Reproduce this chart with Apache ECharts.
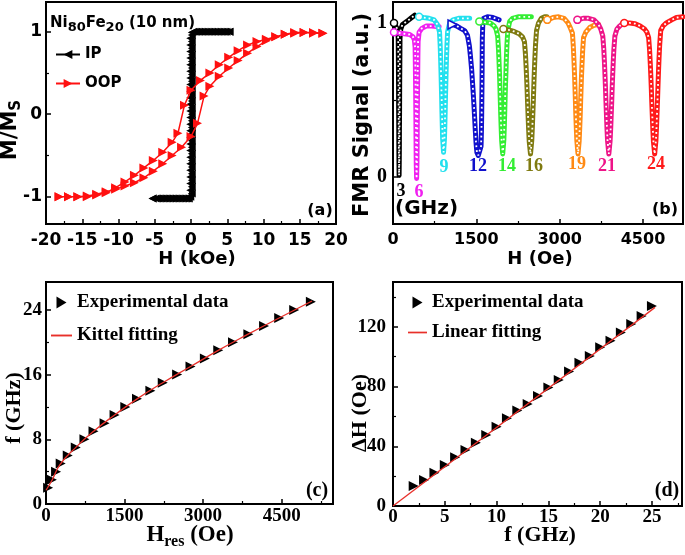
<!DOCTYPE html>
<html><head><meta charset="utf-8">
<script src="https://cdn.jsdelivr.net/npm/echarts@6/dist/echarts.min.js"></script>
<style>html,body{margin:0;padding:0;background:#fff}#c{width:685px;height:555px}</style>
</head><body><div id="c"></div>
<script>
// ---------- Panel (a): hysteresis loops (H in kOe, M/Ms) ----------
const ipDown = [[5.3,1.0],[4.9,1.0],[4.5,1.0],[4.1,1.0],[3.7,1.0],[3.3,1.0],[2.9,1.0],[2.5,1.0],[2.1,1.0],[1.7,1.0],[1.3,1.0],[0.9,1.0],[0.5,1.0],[0.1,0.99],
 [-0.1,0.92],[-0.1,0.84],[-0.1,0.76],[-0.1,0.68],[-0.1,0.60],[-0.1,0.52],[-0.1,0.44],[-0.1,0.36],[-0.1,0.28],[-0.1,0.20],[-0.1,0.12],[-0.1,0.04],
 [-0.1,-0.04],[-0.1,-0.12],[-0.1,-0.20],[-0.1,-0.28],[-0.1,-0.36],[-0.1,-0.44],[-0.1,-0.52],[-0.1,-0.60],[-0.1,-0.68],[-0.1,-0.76],[-0.1,-0.84],[-0.1,-0.92],
 [-0.3,-1.02],[-0.7,-1.02],[-1.1,-1.02],[-1.5,-1.02],[-1.9,-1.02],[-2.3,-1.02],[-2.7,-1.02],[-3.1,-1.02],[-3.5,-1.02],[-3.9,-1.02],[-4.3,-1.02],[-4.7,-1.02],[-5.3,-1.02]];
const ipUp = [[-5.3,-1.02],[-4.9,-1.02],[-4.5,-1.02],[-4.1,-1.02],[-3.7,-1.02],[-3.3,-1.02],[-2.9,-1.02],[-2.5,-1.02],[-2.1,-1.02],[-1.7,-1.02],[-1.3,-1.02],[-0.9,-1.02],[-0.5,-1.02],[-0.1,-1.0],
 [0.1,-0.96],[0.1,-0.88],[0.1,-0.80],[0.1,-0.72],[0.1,-0.64],[0.1,-0.56],[0.1,-0.48],[0.1,-0.40],[0.1,-0.32],[0.1,-0.24],[0.1,-0.16],[0.1,-0.08],
 [0.1,0.0],[0.1,0.08],[0.1,0.16],[0.1,0.24],[0.1,0.32],[0.1,0.40],[0.1,0.48],[0.1,0.56],[0.1,0.64],[0.1,0.72],[0.1,0.80],[0.1,0.88],[0.1,0.96],
 [0.3,1.0],[0.7,1.0],[1.1,1.0],[1.5,1.0],[1.9,1.0],[2.3,1.0],[2.7,1.0],[3.1,1.0],[3.5,1.0],[3.9,1.0],[4.3,1.0],[4.7,1.0],[5.3,1.0]];
const oopDown = [[18.2,0.98],[16.9,0.99],[15.6,0.99],[14.3,0.98],[13.0,0.97],[11.7,0.94],[10.4,0.91],[9.1,0.88],[7.8,0.84],[6.5,0.77],[5.2,0.69],[3.9,0.60],[2.6,0.50],[1.3,0.41],[0.0,0.29],
 [-0.9,0.11],[-1.8,-0.23],[-2.6,-0.34],[-3.9,-0.46],[-5.2,-0.56],[-6.5,-0.65],[-7.8,-0.74],[-9.1,-0.82],[-10.4,-0.89],[-11.7,-0.95],[-13.0,-0.98],[-14.3,-1.0],[-15.6,-1.0],[-16.9,-1.0],[-18.2,-1.0]];
const oopUp = [[-18.2,-1.0],[-16.9,-1.0],[-15.6,-1.0],[-14.3,-0.99],[-13.0,-0.97],[-11.7,-0.94],[-10.4,-0.91],[-9.1,-0.87],[-7.8,-0.83],[-6.5,-0.77],[-5.2,-0.69],[-3.9,-0.60],[-2.6,-0.50],[-1.3,-0.40],[0.0,-0.27],
 [0.9,-0.11],[1.8,0.22],[2.6,0.34],[3.9,0.46],[5.2,0.56],[6.5,0.65],[7.8,0.74],[9.1,0.82],[10.4,0.89],[11.7,0.94],[13.0,0.97],[14.3,0.99],[15.6,0.99],[16.9,0.98],[18.2,0.98]];

// ---------- Panel (b): FMR spectra (H in Oe, normalised signal) ----------
const fmrLabels = ['3','6','9','12','14','16','19','21','24'];
const fmr3 = [[18,1.0],[50,0.99],[80,0.96],[94,0.9],[96,0.8],[98,0.7],[100,0.6],[101,0.5],[102,0.41],[104,0.31],[105,0.21],[107,0.11],[110,0.01],[113,0.11],[115,0.21],[116,0.31],[118,0.41],[119,0.5],[120,0.6],[122,0.7],[124,0.8],[126,0.9],[140,0.96],[170,0.99],[250,1.01],[320,1.03],[390,1.05]];
const fmr6 = [[18,0.94],[100,0.935],[200,0.93],[300,0.925],[360,0.91],[385,0.89],[398,0.84],[402,0.74],[405,0.65],[408,0.55],[410,0.46],[412,0.37],[414,0.27],[416,0.18],[419,0.08],[425,-0.01],[431,0.09],[434,0.19],[436,0.29],[438,0.39],[440,0.49],[442,0.58],[445,0.68],[448,0.78],[452,0.88],[470,0.94],[520,0.965],[600,0.98],[700,0.98],[830,0.975]];
const fmr9 = [[470,1.04],[550,1.035],[650,1.03],[740,1.02],[800,0.99],[837,0.943],[849,0.856],[857,0.769],[864,0.682],[870,0.595],[876,0.508],[881,0.421],[887,0.334],[894,0.247],[910,0.16],[926,0.247],[933,0.334],[939,0.421],[944,0.508],[950,0.595],[956,0.682],[963,0.769],[971,0.856],[983,0.943],[1020,1.0],[1080,1.02],[1180,1.03],[1280,1.03],[1380,1.03]];
const fmr12 = [[1072,0.99],[1150,0.98],[1217,0.965],[1290,0.95],[1340,0.92],[1375,0.85],[1395,0.78],[1415,0.70],[1430,0.62],[1445,0.54],[1458,0.46],[1470,0.38],[1482,0.30],[1495,0.22],[1510,0.16],[1535,0.14],[1560,0.15],[1585,0.2],[1592,0.3],[1596,0.4],[1599,0.5],[1602,0.6],[1604,0.7],[1606,0.8],[1608,0.9],[1615,0.98],[1632,1.03],[1700,1.04],[1800,1.035],[1910,1.02]];
const fmr14 = [[1554,1.01],[1650,1.005],[1750,1.0],[1820,0.98],[1855,0.96],[1884,0.915],[1899,0.83],[1909,0.745],[1918,0.66],[1925,0.575],[1932,0.49],[1939,0.405],[1947,0.32],[1956,0.235],[1975,0.15],[1995,0.24],[2004,0.33],[2011,0.42],[2018,0.51],[2025,0.6],[2033,0.68],[2041,0.77],[2051,0.86],[2066,0.95],[2100,1.01],[2150,1.03],[2250,1.04],[2370,1.04],[2490,1.04]];
const fmr16 = [[1987,0.96],[2080,0.955],[2180,0.945],[2270,0.93],[2330,0.91],[2366,0.879],[2384,0.798],[2396,0.717],[2406,0.636],[2415,0.555],[2423,0.474],[2432,0.393],[2441,0.312],[2452,0.231],[2475,0.15],[2498,0.239],[2509,0.328],[2518,0.417],[2527,0.506],[2535,0.595],[2544,0.684],[2554,0.773],[2566,0.862],[2584,0.951],[2620,1.0],[2670,1.03],[2730,1.04],[2770,1.04]];
const fmr19 = [[2777,1.02],[2880,1.035],[2980,1.04],[3080,1.03],[3150,1.0],[3190,0.97],[3230,0.933],[3246,0.846],[3257,0.759],[3267,0.672],[3275,0.585],[3283,0.498],[3290,0.411],[3299,0.324],[3309,0.237],[3330,0.15],[3351,0.234],[3361,0.318],[3370,0.402],[3377,0.486],[3385,0.57],[3393,0.654],[3403,0.738],[3414,0.822],[3430,0.906],[3470,0.94],[3540,0.97],[3620,0.985],[3700,0.99]];
const fmr21 = [[3319,1.02],[3420,1.03],[3520,1.03],[3620,1.02],[3700,0.99],[3740,0.96],[3776,0.915],[3794,0.83],[3806,0.745],[3816,0.66],[3825,0.575],[3833,0.49],[3842,0.405],[3851,0.32],[3862,0.235],[3885,0.15],[3908,0.235],[3919,0.32],[3928,0.405],[3937,0.49],[3945,0.575],[3954,0.66],[3964,0.745],[3976,0.83],[3994,0.915],[4030,0.96],[4080,0.98],[4144,1.0],[4200,1.0]];
const fmr24 = [[4163,1.0],[4260,1.0],[4360,0.995],[4450,0.98],[4530,0.96],[4570,0.94],[4601,0.906],[4619,0.822],[4631,0.738],[4641,0.654],[4650,0.57],[4658,0.486],[4667,0.402],[4676,0.318],[4687,0.234],[4710,0.15],[4733,0.239],[4744,0.328],[4753,0.417],[4762,0.506],[4770,0.595],[4779,0.684],[4789,0.773],[4801,0.862],[4819,0.951],[4860,0.98],[4920,1.0],[5017,1.02],[5100,1.035],[5220,1.04]];
const fmrCurves = [fmr3,fmr6,fmr9,fmr12,fmr14,fmr16,fmr19,fmr21,fmr24];
const fmrColors = ['#000000','#f020f0','#22e0ee','#1010cc','#33ee33','#7f7a10','#ff8a14','#ee1488','#ff1a1a'];

// ---------- Panel (c): f vs Hres ----------
const cH = [40,112,192,280,415,568,734,907,1118,1309,1514,1737,1993,2229,2504,2759,3034,3289,3570,3864,4164,4452,4739,5058];
const cF = [2,3,4,5,6,7,8,9,10,11,12,13,14,15,16,17,18,19,20,21,22,23,24,25];
const kittelFit = [[0,1.7],[120,3.0],[270,4.9],[570,7.0],[910,9.0],[1310,11.0],[1740,13.0],[2230,15.0],[2760,17.0],[3290,19.0],[3860,21.0],[4450,23.0],[5080,25.1]];

// ---------- Panel (d): dH vs f ----------
const dF = [2,3,4,5,6,7,8,9,10,11,12,13,14,15,16,17,18,19,20,21,22,23,24,25];
const dH = [13.4,17.4,22.3,27.5,32.6,37.5,42.4,47.6,53.1,58.7,63.9,68.3,73.7,79.3,84.4,90.0,96.0,100.5,106.3,110.7,116.1,121.9,127.3,134.0];
const linearFit = [[0,0],[25.3,133]];

// ---------- ticks ----------
const aXTicks=[-20,-15,-10,-5,0,5,10,15,20], aXMinor=[-17.5,-12.5,-7.5,-2.5,2.5,7.5,12.5,17.5];
const aYTicks=[-1,0,1], aYMinor=[-0.5,0.5];
const bXTicks=[0,1500,3000,4500], bXMinor=[750,2250,3750];
const bYTicks=[0,1], bYMinor=[0.5];
const cXTicks=[0,1500,3000,4500], cXMinor=[750,2250,3750,5250];
const cYTicks=[0,8,16,24], cYMinor=[4,12,20];
const dXTicks=[0,5,10,15,20,25], dXMinor=[2.5,7.5,12.5,17.5,22.5,27.5];
const dYTicks=[0,40,80,120], dYMinor=[20,60,100,140];

const SANS='DejaVu Sans', SERIF='Liberation Serif';
const RED='#e8302a';
const fs=(fam,size)=>({fontFamily:fam,fontWeight:'bold',fontSize:size,color:'#000'});

const grids=[
 {left:46,top:2,width:290,height:222},
 {left:393,top:2,width:290,height:222},
 {left:46,top:282,width:287,height:222},
 {left:393,top:282,width:289,height:224}
].map(g=>Object.assign(g,{show:true,borderColor:'#000',borderWidth:2,containLabel:false}));

function mainAx(dim,g,min,max,ticks,lab,margin){
 return {type:'value',gridIndex:g,min,max,position:dim==='x'?'bottom':'left',
  axisLine:{show:true,onZero:false,lineStyle:{color:'#000',width:2}},
  axisTick:{show:true,inside:true,length:5,customValues:ticks,lineStyle:{color:'#000',width:1.5}},
  axisLabel:{show:true,customValues:ticks,margin,formatter:v=>String(v),...lab},
  splitLine:{show:false},minorTick:{show:false}};
}
function minorAx(dim,g,min,max,ticks){
 return {type:'value',gridIndex:g,min,max,position:dim==='x'?'bottom':'left',
  axisLine:{show:false,onZero:false},
  axisTick:{show:true,inside:true,length:3,customValues:ticks,lineStyle:{color:'#000',width:1.2}},
  axisLabel:{show:false},splitLine:{show:false}};
}
const xAxis=[
 mainAx('x',0,-20,20,aXTicks,fs(SANS,17),8),
 mainAx('x',1,0,5220,bXTicks,fs(SANS,16),8),
 mainAx('x',2,0,5480,cXTicks,fs(SERIF,19),3),
 mainAx('x',3,0,27.9,dXTicks,fs(SERIF,19),2),
 minorAx('x',0,-20,20,aXMinor),minorAx('x',1,0,5220,bXMinor),minorAx('x',2,0,5480,cXMinor),minorAx('x',3,0,27.9,dXMinor)];
const yAxis=[
 mainAx('y',0,-1.33,1.36,aYTicks,fs(SANS,17),4),
 mainAx('y',1,-0.305,1.136,bYTicks,fs(SERIF,20),6),
 mainAx('y',2,0,27.45,cYTicks,fs(SERIF,19),4),
 mainAx('y',3,0,150,dYTicks,fs(SERIF,19),7),
 minorAx('y',0,-1.33,1.36,aYMinor),minorAx('y',1,-0.305,1.136,bYMinor),minorAx('y',2,0,27.45,cYMinor),minorAx('y',3,0,150,dYMinor)];

const series=[];
// (a)
series.push({name:'IP',type:'line',xAxisIndex:0,yAxisIndex:0,data:ipDown.concat(ipUp),symbol:'triangle',symbolRotate:90,symbolSize:8,showSymbol:true,showAllSymbol:true,
 itemStyle:{color:'#000'},lineStyle:{color:'#000',width:1.5},z:3});
series.push({name:'OOP',type:'line',xAxisIndex:0,yAxisIndex:0,data:oopDown.concat(oopUp),symbol:'triangle',symbolRotate:-90,symbolSize:9,showSymbol:true,showAllSymbol:true,
 itemStyle:{color:'#ff1010'},lineStyle:{color:'#ff1010',width:1.5},z:4});
// (b)
fmrCurves.forEach((cv,i)=>{
 series.push({type:'line',xAxisIndex:1,yAxisIndex:1,data:cv,symbol:'none',lineStyle:{color:fmrColors[i],width:5,join:'round',cap:'round'},z:3+i*0.01,silent:true});
 series.push({type:'line',xAxisIndex:1,yAxisIndex:1,data:cv,symbol:'none',lineStyle:{color:'#fff',width:1.8,type:[1.8,3]},z:3+i*0.01+0.005,silent:true});
});
fmrCurves.forEach((cv,i)=>{
 series.push({type:'scatter',xAxisIndex:1,yAxisIndex:1,data:[cv[0]],symbol:i===3?'triangle':'circle',symbolRotate:i===3?-90:0,symbolSize:i===3?9:7,
  itemStyle:{color:'#fff',borderColor:fmrColors[i],borderWidth:1.5,opacity:1},z:5});
});
// (c)
series.push({name:'Experimental data',type:'scatter',xAxisIndex:2,yAxisIndex:2,data:cH.map((h,i)=>[h,cF[i]]),symbol:'triangle',symbolRotate:-90,symbolSize:10,itemStyle:{color:'#000',opacity:1},z:3});
series.push({name:'Kittel fitting',type:'line',xAxisIndex:2,yAxisIndex:2,data:kittelFit,smooth:true,symbol:'none',itemStyle:{color:RED},lineStyle:{color:RED,width:1.3},z:4});
// (d)
series.push({name:'Experimental data',type:'scatter',xAxisIndex:3,yAxisIndex:3,data:dF.map((f,i)=>[f,dH[i]]),symbol:'triangle',symbolRotate:-90,symbolSize:10,itemStyle:{color:'#000',opacity:1},z:3});
series.push({name:'Linear fitting',type:'line',xAxisIndex:3,yAxisIndex:3,data:linearFit,symbol:'none',itemStyle:{color:RED},lineStyle:{color:RED,width:1.3},z:4});

const TRI='path://M0,0L10,6L0,12Z', BAR='path://M0,0L20,0L20,1.8L0,1.8Z';
const legend=[
 {left:55,top:47,padding:0,orient:'vertical',itemWidth:24,itemHeight:11,itemGap:14,data:['IP','OOP'],selectedMode:false,textStyle:fs(SANS,15)},
 {left:51,top:293,padding:0,orient:'vertical',itemWidth:21,itemHeight:12,itemGap:14,symbolKeepAspect:true,selectedMode:false,textStyle:fs(SERIF,19),
  data:[{name:'Experimental data',icon:TRI,itemStyle:{color:'#000',opacity:1}},{name:'Kittel fitting',icon:BAR,itemStyle:{color:RED}}]},
 {left:408,top:293,padding:0,orient:'vertical',itemWidth:19,itemHeight:12,itemGap:11,symbolKeepAspect:true,selectedMode:false,textStyle:fs(SERIF,19),
  data:[{name:'Experimental data',icon:TRI,itemStyle:{color:'#000',opacity:1}},{name:'Linear fitting',icon:BAR,itemStyle:{color:RED}}]}
];

function txt(x,y,text,fam,size,extra){
 return Object.assign({type:'text',x,y,silent:true,style:Object.assign({text,fill:'#000',fontFamily:fam,fontWeight:'bold',fontSize:size,align:'center',verticalAlign:'middle'},(extra&&extra.style)||{})},(extra&&extra.el)||{});
}
const R=Math.PI/2;
const graphic=[
 txt(197,259,'H (kOe)',SANS,18),
 txt(540,259,'H (Oe)',SANS,18),
 txt(11,130,'{m|M/M}{s|S}',SANS,21,{el:{rotation:R},style:{rich:{m:{fontFamily:SANS,fontWeight:'bold',fontSize:21,lineHeight:26},s:{fontFamily:SANS,fontWeight:'bold',fontSize:15,lineHeight:15,verticalAlign:'bottom'}}}}),
 txt(363,115,'FMR Signal (a.u.)',SANS,21,{el:{rotation:R}}),
 txt(50,23,'{a|Ni}{b|80}{a|Fe}{b|20}{a| (10 nm)}',SANS,15,{style:{align:'left',rich:{a:{fontFamily:SANS,fontWeight:'bold',fontSize:15,lineHeight:22},b:{fontFamily:SANS,fontWeight:'bold',fontSize:13,lineHeight:13,verticalAlign:'bottom'}}}}),
 txt(320,211,'(a)',SANS,16),
 txt(665,210,'(b)',SANS,16),
 txt(395,209,'(GHz)',SANS,20,{style:{align:'left'}}),
 txt(14,408,'f (GHz)',SERIF,22,{el:{rotation:R}}),
 txt(190,535,'{h|H}{s|res}{h| (Oe)}',SERIF,22,{style:{rich:{h:{fontFamily:SERIF,fontWeight:'bold',fontSize:23,lineHeight:30},s:{fontFamily:SERIF,fontWeight:'bold',fontSize:16,lineHeight:16,verticalAlign:'bottom'}}}}),
 txt(360,413,'\u0394H (Oe)',SERIF,22,{el:{rotation:R}}),
 txt(540,535,'f (GHz)',SERIF,22),
 txt(317,491,'(c)',SERIF,20),
 txt(667,491,'(d)',SERIF,20)
];
const labelPx=[[401,191],[419,192],[444,167],[478,166],[507,166],[534,166],[577,164],[607,166],[656,164]];
fmrLabels.forEach((t,i)=>graphic.push(txt(labelPx[i][0],labelPx[i][1],t,SERIF,18,{style:{fill:fmrColors[i]}})));

const chart=echarts.init(document.getElementById('c'),null,{renderer:'canvas'});
chart.setOption({animation:false,backgroundColor:'#fff',grid:grids,xAxis,yAxis,series,legend,graphic});
</script></body></html>
